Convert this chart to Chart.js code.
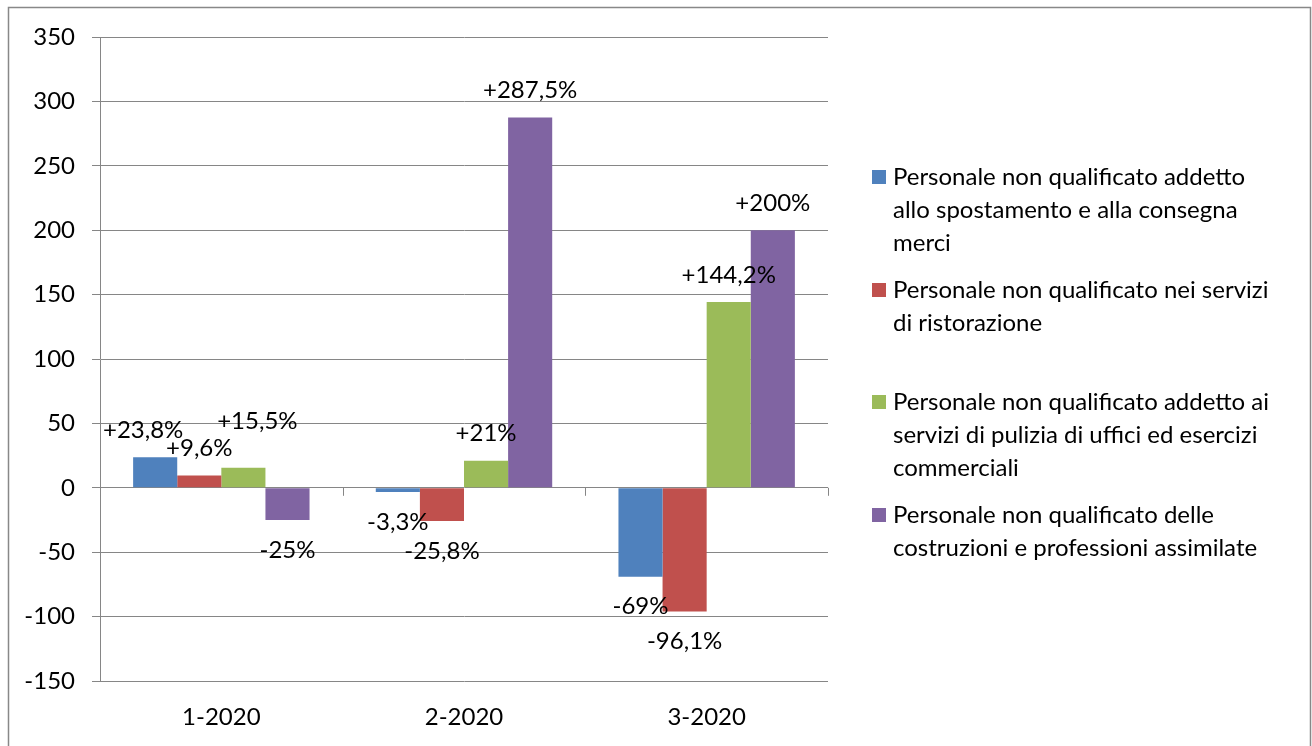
<!DOCTYPE html>
<html>
<head>
<meta charset="utf-8">
<script src="https://cdn.jsdelivr.net/npm/chart.js@4.4.1/dist/chart.umd.min.js"></script>
<style>
  html, body { margin: 0; padding: 0; background: #fff; }
  #wrap { position: relative; width: 1312px; height: 746px; }
</style>
</head>
<body>
<div id="wrap"><canvas id="chart" width="1312" height="746"></canvas></div>
<script>
// categories and series (percent change)
const categories = ['1-2020', '2-2020', '3-2020'];
const trasportoMerci = [23.8, -3.3, -69];
const ristorazione = [9.6, -25.8, -96.1];
const pulizia = [15.5, 21, 144.2];
const costruzioni = [-25, 287.5, 200];

const seriesNames = [
  ['Personale non qualificato addetto', 'allo spostamento e alla consegna', 'merci'],
  ['Personale non qualificato nei servizi', 'di ristorazione'],
  ['Personale non qualificato addetto ai', 'servizi di pulizia di uffici ed esercizi', 'commerciali'],
  ['Personale non qualificato delle', 'costruzioni e professioni assimilate']
];
const seriesColors = ['#4F81BD', '#C0504D', '#9BBB59', '#8064A2'];
const yTicks = [350, 300, 250, 200, 150, 100, 50, 0, -50, -100, -150];

const FONT = 'Lato, "Open Sans", sans-serif';
const FSIZE = 24;
const GRID = '#868686';

function fmt(v) {
  const s = String(v).replace('.', ',');
  return (v > 0 ? '+' : '') + s + '%';
}

// a couple of labels were dragged by hand in the original
const labelNudge = { '0-0': [-12, 0], '2-0': [14, -20] };

const extras = {
  id: 'extras',
  afterDraw(chart) {
    const ctx = chart.ctx;
    const x = chart.scales.x, y = chart.scales.y;
    const y0 = y.getPixelForValue(0);
    ctx.save();
    // outer frame
    ctx.strokeStyle = '#888';
    ctx.lineWidth = 1.5;
    ctx.strokeRect(8.5, 7.5, 1302, 760);
    // category tick marks on the zero line
    ctx.lineWidth = 1;
    ctx.strokeStyle = GRID;
    const step = (x.right - x.left) / categories.length;
    for (let i = 0; i <= categories.length; i++) {
      const px = Math.round(x.left + i * step) + 0.5;
      ctx.beginPath(); ctx.moveTo(px, y0); ctx.lineTo(px, y0 + 8); ctx.stroke();
    }
    // data labels
    ctx.fillStyle = '#000';
    ctx.font = FSIZE + 'px ' + FONT;
    ctx.textAlign = 'center';
    ctx.textBaseline = 'middle';
    chart.data.datasets.forEach((ds, di) => {
      chart.getDatasetMeta(di).data.forEach((bar, i) => {
        const v = ds.data[i];
        const n = labelNudge[di + '-' + i] || [0, 0];
        const ly = v >= 0 ? bar.y - 27 : bar.y + 30;
        ctx.fillText(fmt(v), bar.x + n[0], ly + n[1]);
      });
    });
    // legend
    const lx = 872, tx = 893;
    const tops = [177, 290, 402, 515];
    ctx.textAlign = 'left';
    seriesNames.forEach((lines, k) => {
      ctx.fillStyle = seriesColors[k];
      ctx.fillRect(lx, tops[k] - 7, 14, 14);
      ctx.fillStyle = '#000';
      lines.forEach((ln, j) => ctx.fillText(ln, tx, tops[k] + j * 33));
    });
    ctx.restore();
  }
};

new Chart(document.getElementById('chart'), {
  type: 'bar',
  data: {
    labels: categories,
    datasets: [trasportoMerci, ristorazione, pulizia, costruzioni].map((d, k) => ({
      label: seriesNames[k].join(' '),
      data: d,
      backgroundColor: seriesColors[k],
      borderWidth: 0,
      categoryPercentage: 0.727,
      barPercentage: 1
    }))
  },
  options: {
    responsive: false,
    animation: false,
    layout: { padding: { top: 37, right: 484, bottom: 17, left: 0 } },
    plugins: { legend: { display: false }, tooltip: { enabled: false } },
    scales: {
      x: {
        afterFit(scale) { scale.height = 48; },
        grid: { display: false, drawTicks: false },
        border: { display: false },
        ticks: { color: '#000', font: { family: FONT, size: FSIZE }, padding: 22 }
      },
      y: {
        min: -150, max: 350,
        afterFit(scale) { scale.width = 100; },
        afterBuildTicks(scale) { scale.ticks = yTicks.map(v => ({ value: v })); },
        grid: { color: GRID, lineWidth: 1, tickLength: 8 },
        border: { color: GRID, width: 1 },
        ticks: { color: '#000', font: { family: FONT, size: FSIZE }, padding: 17 }
      }
    }
  },
  plugins: [extras]
});
</script>
</body>
</html>
